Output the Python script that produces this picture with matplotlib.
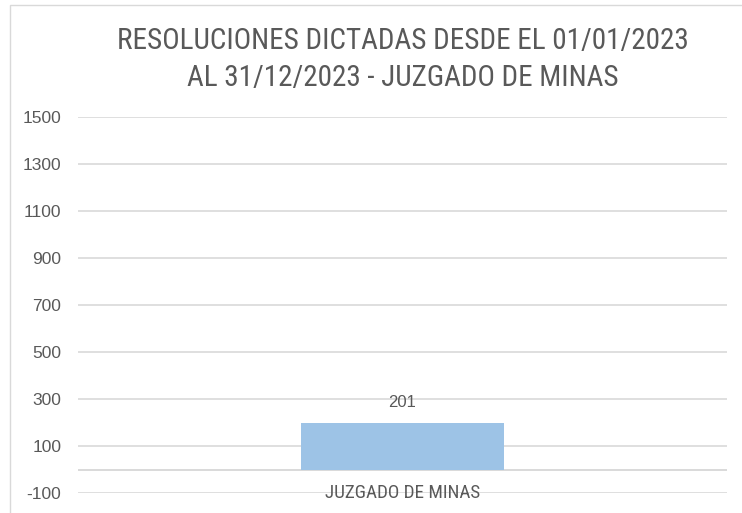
import matplotlib
matplotlib.use("Agg")
import matplotlib.pyplot as plt
from matplotlib.patches import Rectangle
from matplotlib import font_manager

categories = ["JUZGADO DE MINAS"]
values = [201]
yticks = [-100, 100, 300, 500, 700, 900, 1100, 1300, 1500]
title = "RESOLUCIONES DICTADAS DESDE EL 01/01/2023\nAL 31/12/2023 - JUZGADO DE MINAS"

installed = {f.name for f in font_manager.fontManager.ttflist}
narrow = [n for n in ["Roboto Condensed", "Open Sans Condensed", "Liberation Sans Narrow",
                      "DejaVu Sans Condensed"] if n in installed]
FONT = ["Liberation Sans", "DejaVu Sans"]
TITLE_FONT = (narrow[:1] or ["Liberation Sans"]) + ["DejaVu Sans"]
TEXT = "#595959"
GRID = "#D9D9D9"
BAR = "#9DC3E6"

plt.rcParams["font.family"] = FONT

W, H = 742, 513
fig = plt.figure(figsize=(W / 100, H / 100), dpi=100)
fig.patch.set_facecolor("white")

# chart-area border
fig.add_artist(Rectangle((10 / W, -0.1), 1.2, (H - 5) / H + 0.1,
                         transform=fig.transFigure, fill=False,
                         edgecolor="#D9D9D9", linewidth=1.0))

ax = fig.add_axes([78 / W, (H - 493.3) / H, (727 - 78) / W, (493.3 - 117.3) / H])
ax.set_xlim(-0.5, 0.5)
ax.set_ylim(-100, 1500)
ax.set_yticks(yticks)
ax.set_yticklabels([str(t) for t in yticks])
ax.grid(axis="y", color=GRID, linewidth=1.2)
ax.set_axisbelow(True)
for s in ax.spines.values():
    s.set_visible(False)
ax.axhline(0, color=GRID, linewidth=1.4, zorder=1)
ax.tick_params(axis="y", length=0, pad=12, labelsize=12.5, labelcolor=TEXT)
ax.tick_params(axis="x", length=0)

x = list(range(len(categories)))
bars = ax.bar(x, values, width=0.314, color=BAR, zorder=2)
for xi, v in zip(x, values):
    ax.text(xi, v + 85, str(v), ha="center", va="center", fontsize=12, color=TEXT)

ax.set_xticks([])
cat_size = 13.8 if narrow else 12
for xi, c in zip(x, categories):
    ax.text(xi, -100, c, ha="center", va="center", fontsize=cat_size, color=TEXT,
            family=TITLE_FONT)

title_size = 21 if narrow else 17.5
fig.text(402.5 / W, 1 - 59.5 / H, title, ha="center", va="center",
         fontsize=title_size, color=TEXT, linespacing=1.38, family=TITLE_FONT)

fig.savefig("out.png", dpi=100)
